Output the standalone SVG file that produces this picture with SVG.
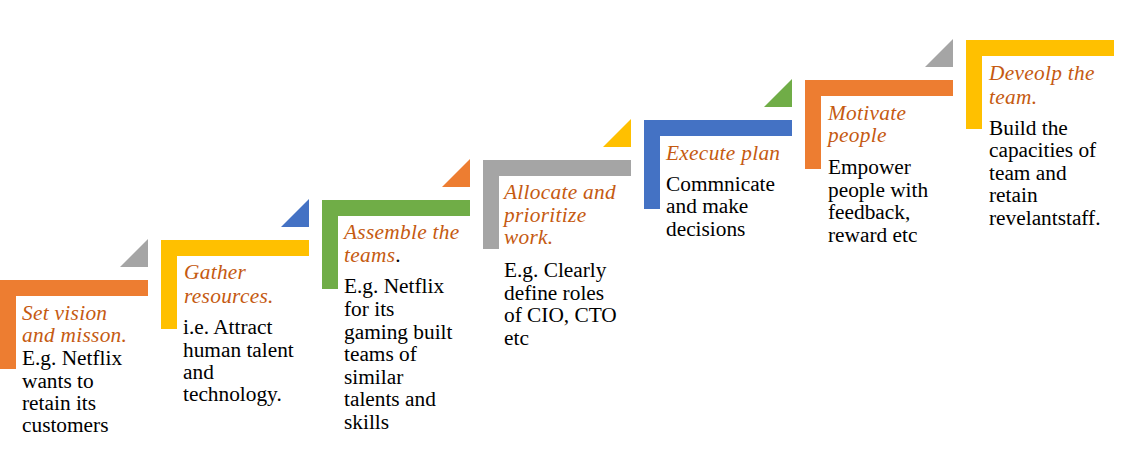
<svg xmlns="http://www.w3.org/2000/svg" width="1128" height="452" viewBox="0 0 1128 452">
<style>
.t{font-family:"Liberation Serif","Times New Roman",serif;font-size:21.33px;font-style:italic;fill:#C55A11;letter-spacing:0.3px}
.b{font-family:"Liberation Serif","Times New Roman",serif;font-size:21.33px;fill:#000}
.or{fill:#ED7D31}.ye{fill:#FFC000}.gr{fill:#70AD47}.gy{fill:#A5A5A5}.bl{fill:#4472C4}
</style>
<rect width="1128" height="452" fill="#fff"/>
<g id="connectors"/>
<g id="step1">
<path class="or" d="M0 280H148V296H16V369H0Z"/>
<path class="gy" d="M120 267H148V239Z"/>
<text class="t"><tspan x="22" y="320">Set vision</tspan><tspan x="22" y="342">and misson.</tspan></text>
<text class="b"><tspan x="22" y="365">E.g. Netflix</tspan><tspan x="22" y="388">wants to</tspan><tspan x="22" y="410">retain its</tspan><tspan x="22" y="432">customers</tspan></text>
</g>
<g id="step2">
<path class="ye" d="M161 240H309V256H177V329H161Z"/>
<path class="bl" d="M281 227H309V199Z"/>
<text class="t"><tspan x="184" y="279">Gather</tspan><tspan x="184" y="303">resources.</tspan></text>
<text class="b"><tspan x="183" y="334">i.e. Attract</tspan><tspan x="183" y="357">human talent</tspan><tspan x="183" y="379">and</tspan><tspan x="183" y="401">technology.</tspan></text>
</g>
<g id="step3">
<path class="gr" d="M322 200H470V216H338V289H322Z"/>
<path class="or" d="M442 187H470V159Z"/>
<text class="t"><tspan x="344" y="239">Assemble the</tspan><tspan x="344" y="262">teams<tspan style="font-style:normal;fill:#000">.</tspan></tspan></text>
<text class="b"><tspan x="344" y="293">E.g. Netflix</tspan><tspan x="344" y="316">for its</tspan><tspan x="344" y="339">gaming built</tspan><tspan x="344" y="361">teams of</tspan><tspan x="344" y="384">similar</tspan><tspan x="344" y="406">talents and</tspan><tspan x="344" y="429">skills</tspan></text>
</g>
<g id="step4">
<path class="gy" d="M483 160H631V176H499V249H483Z"/>
<path class="ye" d="M603 147H631V119Z"/>
<text class="t"><tspan x="504" y="199">Allocate and</tspan><tspan x="504" y="222">prioritize</tspan><tspan x="504" y="244">work.</tspan></text>
<text class="b"><tspan x="504" y="277">E.g. Clearly</tspan><tspan x="504" y="300">define roles</tspan><tspan x="504" y="322">of CIO, CTO</tspan><tspan x="504" y="345">etc</tspan></text>
</g>
<g id="step5">
<path class="bl" d="M644 120H792V136H660V209H644Z"/>
<path class="gr" d="M764 107H792V79Z"/>
<text class="t"><tspan x="666" y="160">Execute plan</tspan></text>
<text class="b"><tspan x="666" y="191">Commnicate</tspan><tspan x="666" y="213">and make</tspan><tspan x="666" y="236">decisions</tspan></text>
</g>
<g id="step6">
<path class="or" d="M805 80H953V96H821V169H805Z"/>
<path class="gy" d="M925 67H953V39Z"/>
<text class="t"><tspan x="828" y="120">Motivate</tspan><tspan x="828" y="142">people</tspan></text>
<text class="b"><tspan x="828" y="174">Empower</tspan><tspan x="828" y="197">people with</tspan><tspan x="828" y="219">feedback,</tspan><tspan x="828" y="242">reward etc</tspan></text>
</g>
<g id="step7">
<path class="ye" d="M966 40H1114V56H982V129H966Z"/>
<text class="t"><tspan x="989" y="80">Deveolp the</tspan><tspan x="989" y="104">team.</tspan></text>
<text class="b"><tspan x="989" y="135">Build the</tspan><tspan x="989" y="157">capacities of</tspan><tspan x="989" y="180">team and</tspan><tspan x="989" y="202">retain</tspan><tspan x="989" y="225">revelantstaff.</tspan></text>
</g>
</svg>
